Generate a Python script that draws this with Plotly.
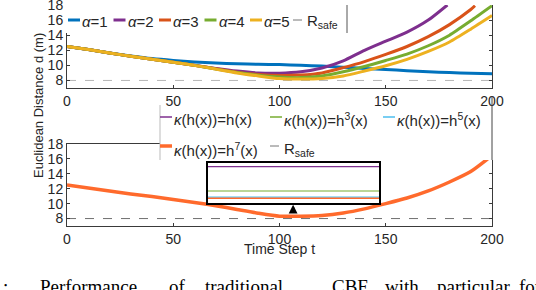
import plotly.graph_objects as go

# ---------------- data ----------------
t_steps = [0, 10, 20, 30, 40, 50, 60, 70, 80, 90, 100, 110, 120, 130, 140, 150, 160, 170, 180, 190, 200]
alpha1 = [12.5, 12.1, 11.65, 11.25, 10.9, 10.65, 10.45, 10.3, 10.2, 10.15, 10.1, 10.0, 9.9, 9.75, 9.6, 9.45, 9.3, 9.15, 9.05, 8.95, 8.9]
t_alpha2 = [0, 10, 20, 30, 40, 50, 60, 70, 80, 90, 100, 110, 120, 130, 140, 150, 160, 170, 179]
alpha2 = [12.5, 12.1, 11.65, 11.2, 10.8, 10.4, 10.0, 9.6, 9.25, 9.0, 8.97, 9.15, 9.65, 10.6, 12.0, 13.2, 14.4, 16.0, 18.0]
t_alpha3 = [0, 10, 20, 30, 40, 50, 60, 70, 80, 90, 100, 110, 120, 130, 140, 150, 160, 170, 180, 190, 192]
alpha3 = [12.5, 12.1, 11.65, 11.2, 10.8, 10.4, 10.0, 9.55, 9.1, 8.8, 8.67, 8.72, 9.0, 9.7, 10.5, 11.45, 12.5, 13.8, 15.4, 17.4, 17.9]
alpha4 = [12.5, 12.1, 11.65, 11.2, 10.8, 10.4, 10.0, 9.5, 9.05, 8.7, 8.45, 8.38, 8.6, 9.15, 9.85, 10.65, 11.5, 12.6, 14.0, 15.9, 17.9]
alpha5 = [12.5, 12.1, 11.65, 11.2, 10.8, 10.4, 10.0, 9.5, 9.0, 8.6, 8.25, 8.18, 8.25, 8.6, 9.25, 9.95, 10.8, 11.85, 13.1, 14.8, 16.6]
r_safe_t = [0, 200]
r_safe = [8, 8]

t_kappa = [0, 10, 20, 30, 40, 50, 60, 70, 80, 90, 100, 110, 120, 130, 140, 150, 160, 170, 180, 190, 198]
kappa1 = [12.5, 12.1, 11.7, 11.3, 10.95, 10.55, 10.15, 9.72, 9.22, 8.72, 8.3409, 8.3409, 8.42, 8.75, 9.3, 10.0, 10.75, 11.7, 12.9, 14.3, 16.0]
kappa3 = [12.5, 12.1, 11.7, 11.3, 10.95, 10.55, 10.15, 9.72, 9.22, 8.72, 8.3224, 8.3224, 8.42, 8.75, 9.3, 10.0, 10.75, 11.7, 12.9, 14.3, 16.0]
kappa5 = [12.5, 12.1, 11.7, 11.3, 10.95, 10.55, 10.15, 9.72, 9.22, 8.72, 8.3178, 8.3178, 8.42, 8.75, 9.3, 10.0, 10.75, 11.7, 12.9, 14.3, 16.0]
kappa7 = [12.5, 12.1, 11.7, 11.3, 10.95, 10.55, 10.15, 9.72, 9.22, 8.72, 8.3168, 8.3168, 8.42, 8.75, 9.3, 10.0, 10.75, 11.7, 12.9, 14.3, 16.0]

x_ticks = [0, 50, 100, 150, 200]
y_ticks = [8, 10, 12, 14, 16, 18]

top_names = ["<i>α</i>=1", "<i>α</i>=2", "<i>α</i>=3", "<i>α</i>=4", "<i>α</i>=5", "R<sub>safe</sub>"]
bot_names = ["<i>κ</i>(h(x))=h(x)", "<i>κ</i>(h(x))=h<sup>3</sup>(x)", "<i>κ</i>(h(x))=h<sup>5</sup>(x)",
             "<i>κ</i>(h(x))=h<sup>7</sup>(x)", "R<sub>safe</sub>"]
caption_words = [":", "Performance", "of", "traditional", "CBF", "with", "particular", "for"]

# ---------------- style ----------------
W, H = 536, 290
def px(x):
    return x / W
def py(y):
    return 1 - y / H

C_BLUE, C_PURP, C_ORNG, C_GRN, C_YEL = "#0072BD", "#7E2F8E", "#D95319", "#77AC30", "#EDB120"
C_LBLUE, C_BORNG = "#4DBEEE", "#FF6A2C"
SANS = "Liberation Sans, Arial, sans-serif"
AXC = "#3a3a3a"
TXT = "#262626"

fig = go.Figure()

def add(x, y, color, width, xa, ya, dash=None, shape="spline"):
    fig.add_trace(go.Scatter(x=x, y=y, mode="lines", xaxis=xa, yaxis=ya, showlegend=False,
                             hoverinfo="skip",
                             line=dict(color=color, width=width, dash=dash, shape=shape, smoothing=0.6)))

# top panel
add(r_safe_t, r_safe, "#b5b5b5", 1, "x", "y", dash="dash", shape="linear")
add(t_steps, alpha1, C_BLUE, 3, "x", "y")
add(t_alpha2, alpha2, C_PURP, 3, "x", "y")
add(t_alpha3, alpha3, C_ORNG, 3, "x", "y")
add(t_steps, alpha4, C_GRN, 3, "x", "y")
add(t_steps, alpha5, C_YEL, 3, "x", "y")

# bottom panel
add(r_safe_t, r_safe, "#707070", 1, "x2", "y2", dash="dash", shape="linear")
add(t_kappa, kappa1, C_PURP, 1.2, "x2", "y2")
add(t_kappa, kappa3, C_GRN, 1.2, "x2", "y2")
add(t_kappa, kappa5, C_LBLUE, 1.2, "x2", "y2")
add(t_kappa, kappa7, C_BORNG, 3.5, "x2", "y2")

# inset (zoom around the minimum)
add(t_kappa, kappa1, C_PURP, 1.2, "x3", "y3", shape="linear")
add(t_kappa, kappa3, C_GRN, 1.2, "x3", "y3", shape="linear")
add(t_kappa, kappa5, C_LBLUE, 1.2, "x3", "y3", shape="linear")
add(t_kappa, kappa7, C_BORNG, 1.5, "x3", "y3", shape="linear")

tickfont = dict(family=SANS, size=14, color=TXT)
common_x = dict(range=[0, 200], tickvals=x_ticks, ticks="inside", ticklen=3, tickcolor=AXC,
                showline=True, linecolor=AXC, linewidth=1, showgrid=False, zeroline=False,
                tickfont=tickfont, domain=[px(67), px(492)], ticklabeloverflow="allow")
common_y = dict(range=[7, 18], tickvals=y_ticks, ticks="inside", ticklen=3, tickcolor=AXC,
                showline=True, linecolor=AXC, linewidth=1, showgrid=False, zeroline=False,
                tickfont=tickfont, mirror="ticks", ticklabeloverflow="allow")

fig.update_layout(
    width=W, height=H,
    margin=dict(l=0, r=0, t=0, b=0, autoexpand=False),
    paper_bgcolor="white", plot_bgcolor="white",
    xaxis=dict(common_x, anchor="y"),
    yaxis=dict(common_y, anchor="x", domain=[py(88), py(5)]),
    xaxis2=dict(common_x, anchor="y2", mirror="ticks"),
    yaxis2=dict(common_y, anchor="x2", domain=[py(226), py(144)]),
    xaxis3=dict(domain=[px(207.5), px(379)], range=[101, 109], anchor="y3", showticklabels=False,
                ticks="", showline=True, linecolor="black", linewidth=2, mirror=True,
                showgrid=False, zeroline=False),
    yaxis3=dict(domain=[py(202.7), py(163.3)], range=[8.3135, 8.3435], anchor="x3", showticklabels=False,
                ticks="", showline=True, linecolor="black", linewidth=2, mirror=True,
                showgrid=False, zeroline=False),
    showlegend=False,
)

shapes = []
ann = []

def pline(x0, y0, x1, y1, color, width, dash=None):
    shapes.append(dict(type="line", xref="paper", yref="paper", x0=px(x0), y0=py(y0), x1=px(x1), y1=py(y1),
                       line=dict(color=color, width=width, dash=dash), layer="above"))

def ptext(x, y, text, size=15, anchor="left", family=SANS, color=TXT, angle=0):
    ann.append(dict(xref="paper", yref="paper", x=px(x), y=py(y), text=text, showarrow=False,
                    xanchor=anchor, yanchor="middle", textangle=angle,
                    font=dict(family=family, size=size, color=color)))

# top legend box
shapes.append(dict(type="rect", xref="paper", yref="paper", x0=px(65.5), x1=px(347), y0=py(33), y1=py(4),
                   fillcolor="white", line=dict(width=0), layer="above"))
pline(347, 5, 347, 33, "#555555", 1)
top_colors = [C_BLUE, C_PURP, C_ORNG, C_GRN, C_YEL]
top_starts = [68, 113.5, 159, 204.5, 250, 293]
for i, name in enumerate(top_names):
    s = top_starts[i]
    if i < 5:
        pline(s, 20, s + 12, 20, top_colors[i], 3)
    else:
        pline(s, 20, s + 12, 20, "#777777", 1, dash="dash")
    ptext(s + 12, 21, name)

# bottom legend box
shapes.append(dict(type="rect", xref="paper", yref="paper", x0=px(160), x1=px(493), y0=py(160), y1=py(107),
                   fillcolor="white", line=dict(width=0), layer="above"))
pline(160, 105, 160, 160, "#bbbbbb", 1)
pline(492, 96, 492, 160, "#444444", 1)
bot_pos = [(160, 117), (270, 117), (383, 117), (160, 146), (270, 146)]
bot_cols = [C_PURP, C_GRN, C_LBLUE, C_BORNG, "#777777"]
bot_w = [1.5, 1.5, 1.5, 3.5, 1]
for i, name in enumerate(bot_names):
    sx, sy = bot_pos[i]
    pline(sx, sy, sx + 12, sy, bot_cols[i], bot_w[i], dash="dash" if i == 4 else None)
    ptext(sx + 12, sy + 3, name)

# axis titles
ptext(38, 106, "Euclidean Distance d (m)", size=13, anchor="center", angle=-90)
ptext(279, 249, "Time Step t", size=14, anchor="center")

# caption fragment
cap_x = [1, 38, 167, 203, 330, 383, 435, 517]
for w, cx in zip(caption_words, cap_x):
    ptext(cx, 286, w, size=19, family="Liberation Serif, Times New Roman, serif", color="black")

# arrow from minimum up to inset
ann.append(dict(xref="x2", yref="y2", axref="x2", ayref="y2", x=106.4, y=9.85, ax=106.4, ay=8.55,
                showarrow=True, arrowhead=2, arrowsize=0.8, arrowwidth=2.2, arrowcolor="black", text=""))

fig.update_layout(shapes=shapes, annotations=ann)
fig.write_html("out.html", config={"displayModeBar": False},
               post_script="document.body.style.margin='0';document.body.style.padding='0';"
                           "document.documentElement.style.overflow='hidden';")
